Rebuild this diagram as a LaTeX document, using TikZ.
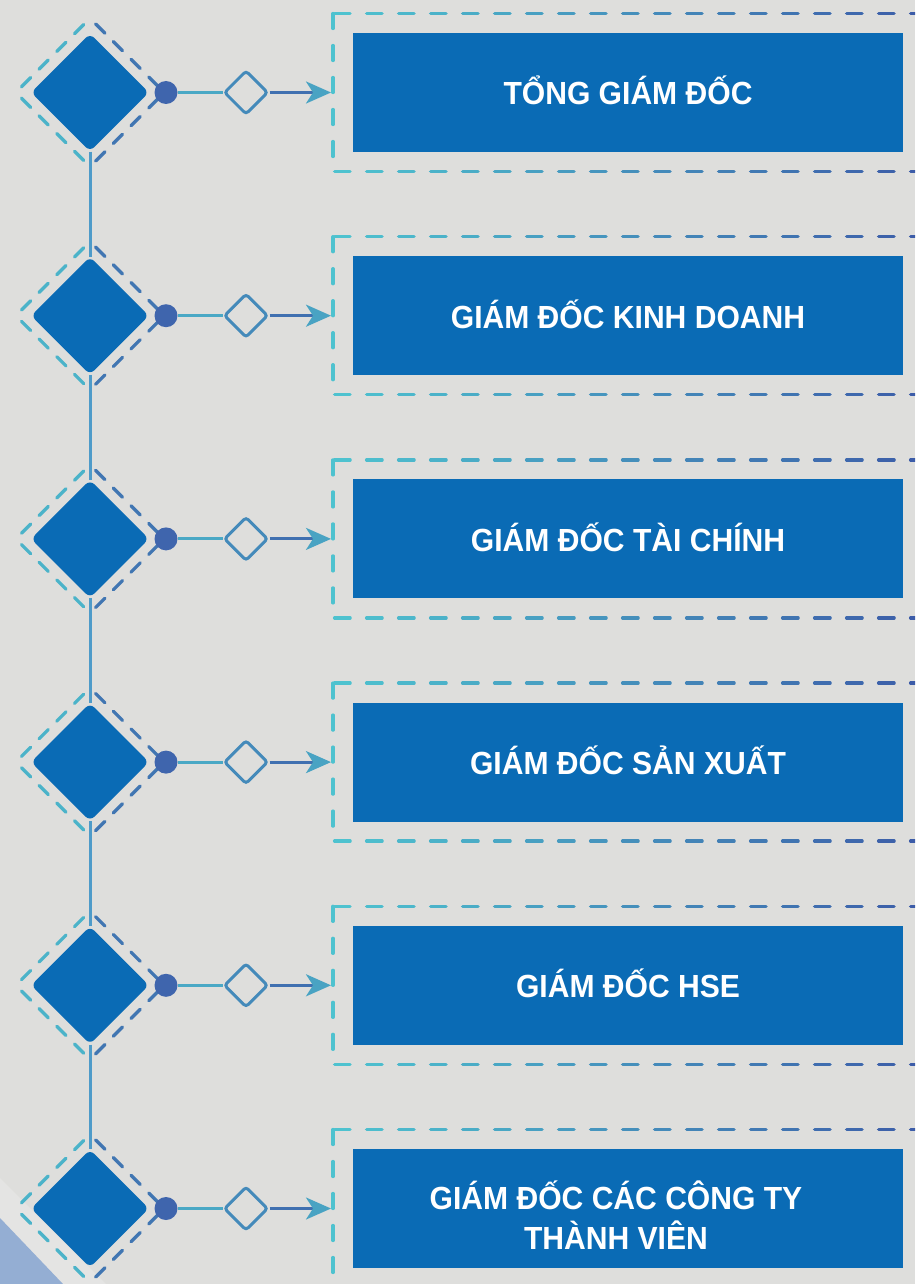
\documentclass[tikz,border=0pt]{standalone}
\usepackage{fontspec}
\newfontfamily\titlefont{Liberation Sans}[FakeStretch=0.94]
\usetikzlibrary{shapes.geometric,arrows.meta}

\definecolor{pagegrey}{HTML}{DEDEDC}
\definecolor{boxblue}{HTML}{0A6BB5}
\definecolor{lightcyan}{HTML}{4EC2CF}
\definecolor{deepblue}{HTML}{3C5CA8}
\definecolor{stemblue}{HTML}{4E9BC9}
\definecolor{cornerblue}{HTML}{94AED3}

\begin{document}
\begin{tikzpicture}[
    x=1pt, y=-1pt,
    bigdiamond/.style={diamond, fill=boxblue, minimum width=118pt,
                       minimum height=118pt, inner sep=0pt, rounded corners=6pt},
    ringdiamond/.style={diamond, minimum width=148pt, minimum height=148pt,
                        inner sep=0pt},
    ringdash/.style={line width=3.3pt, line cap=round,
                     dash pattern=on 13pt off 12pt, dash phase=17pt},
    framedash/.style={line width=3.3pt, line cap=round},
    dotnode/.style={circle, fill=deepblue!85!stemblue, minimum size=23pt,
                    inner sep=0pt},
    gatediamond/.style={diamond, draw=lightcyan!45!deepblue, line width=3pt,
                        minimum width=44pt, minimum height=44pt, inner sep=0pt,
                        rounded corners=3pt},
    linkline/.style={line width=3pt, draw=lightcyan!75!deepblue},
    arrowline/.style={line width=3pt, draw=deepblue!80!lightcyan,
        -{Stealth[length=25pt, width=22pt, inset=7pt, color=lightcyan!70!deepblue]}},
    stemline/.style={line width=3pt, draw=stemblue},
    titlebox/.style={rectangle, fill=boxblue, minimum width=550pt,
                     minimum height=119pt, inner sep=0pt},
    titletext/.style={text=white, align=center, anchor=base, inner sep=0pt,
                      font=\titlefont\bfseries\fontsize{32}{40}\selectfont}
]
    \clip (0,0) rectangle (915,1284);
    \fill[pagegrey] (0,0) rectangle (915,1284);

    % corner
    \fill[white, opacity=0.2] (0,1178) -- (106,1284) -- (0,1284) -- cycle;
    \fill[cornerblue] (0,1218) -- (63,1284) -- (0,1284) -- cycle;

    \foreach \txt/\lift/\shove [count=\i from 0] in {
        TỔNG GIÁM ĐỐC/12.5/0,
        GIÁM ĐỐC KINH DOANH/12.5/0,
        GIÁM ĐỐC TÀI CHÍNH/12.5/0,
        GIÁM ĐỐC SẢN XUẤT/12.5/0,
        GIÁM ĐỐC HSE/12.5/0,
        {GIÁM ĐỐC CÁC CÔNG TY\\THÀNH VIÊN}/40.5/-12} {
        \pgfmathsetmacro\yy{92.5+223.2*\i}

        % dashed frame
        \draw[framedash, lightcyan, dash pattern=on 15pt off 17pt]
            (333,\yy-79) -- (333,\yy+79);
        \foreach \k in {0,...,18} {
            \pgfmathtruncatemacro\mix{\k*100/18}
            \draw[framedash, deepblue!\mix!lightcyan]
                (334.6+32*\k,\yy-79) -- ++(15.5,0);
            \draw[framedash, deepblue!\mix!lightcyan]
                (334.6+32*\k,\yy+79) -- ++(15.5,0);
        }
        \coordinate (frame\i) at (331,\yy);

        % diamonds
        \node[ringdiamond] (ring\i) at (90,\yy) {};
        \draw[ringdash, lightcyan!85!deepblue] (ring\i.west) -- (ring\i.north);
        \draw[ringdash, lightcyan!85!deepblue] (ring\i.west) -- (ring\i.south);
        \draw[ringdash, deepblue!75!lightcyan] (ring\i.north) -- (ring\i.east);
        \draw[ringdash, deepblue!75!lightcyan] (ring\i.south) -- (ring\i.east);
        \node[bigdiamond] (mark\i) at (90,\yy) {};

        \node[dotnode] (dot\i) at (166,\yy) {};
        \node[gatediamond] (gate\i) at (246,\yy) {};
        \draw[linkline] (dot\i) -- (gate\i);
        \draw[arrowline] (gate\i) -- (frame\i);

        \node[titlebox] (box\i) at (628,\yy) {};
        \node[titletext] (label\i)
            at ([xshift=\shove pt, yshift=-\lift pt]box\i.center) {\txt};
    }

    \foreach \i in {0,...,4} {
        \pgfmathtruncatemacro\j{\i+1}
        \draw[stemline] (mark\i.south) -- (mark\j.north);
    }
\end{tikzpicture}
\end{document}
